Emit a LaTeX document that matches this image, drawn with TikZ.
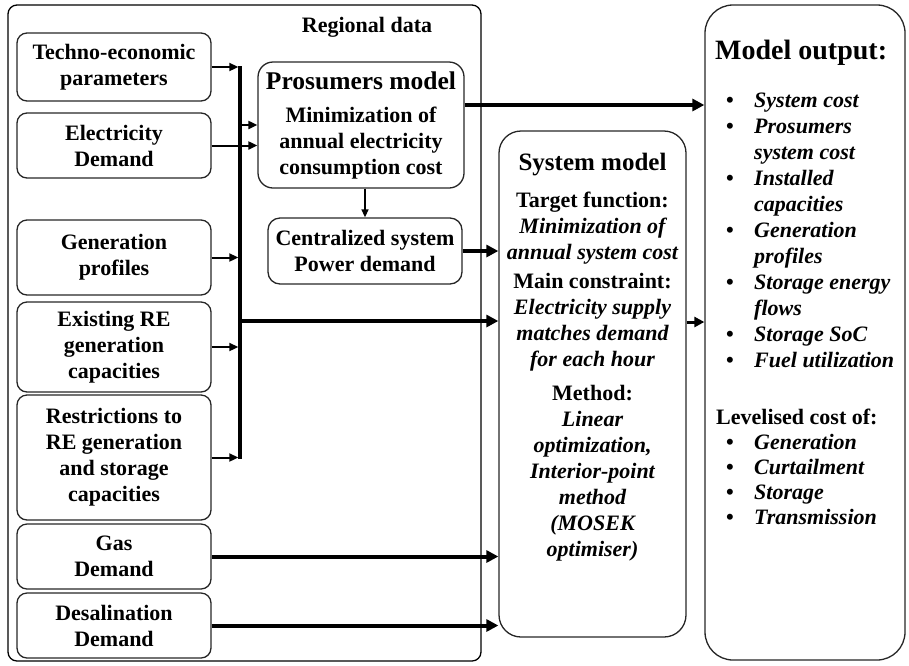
\documentclass[tikz,border=0pt]{standalone}
\usepackage{fontspec}
\setmainfont{Liberation Serif}
\usetikzlibrary{arrows.meta}
\newcommand\bfont{\fontsize{22}{26}\selectfont\bfseries}
\begin{document}
\begin{tikzpicture}[x=1pt,y=-1pt,
  inbox/.style={draw=black!85, line width=1.3pt, rounded corners=10pt, align=center, inner sep=0pt, font=\bfont},
  thinarrow/.style={line width=2pt, -{Triangle[length=9pt,width=8pt]}},
  thickarrow/.style={line width=4pt, -{Triangle[length=12pt,width=12pt]}},
  txt/.style={inner sep=0pt, anchor=base, font=\bfont},
  ltxt/.style={inner sep=0pt, anchor=base west, font=\bfont},
]
\useasboundingbox (0,0) rectangle (909,665);

% outer containers
\node[draw=black, line width=1.3pt, rounded corners=9pt, minimum width=473pt, minimum height=656pt, inner sep=0pt] (regional) at (244.5,333) {};
\node[txt] (regtitle) at (367,32) {Regional data};

% left inputs
\node[inbox, minimum width=194pt, minimum height=68pt] (techno) at (114,67) {Techno-economic\\parameters};
\node[inbox, minimum width=194pt, minimum height=65pt] (elec) at (114,145.5) {Electricity\\Demand};
\node[inbox, minimum width=194pt, minimum height=75pt] (gen) at (114,257.5) {Generation\\profiles};
\node[inbox, minimum width=194pt, minimum height=90pt] (exist) at (114,347) {Existing RE\\generation\\capacities};
\node[inbox, minimum width=194pt, minimum height=125pt] (restr) at (114,457.5) {Restrictions to\\RE generation\\and storage\\capacities};
\node[inbox, minimum width=194pt, minimum height=65pt] (gas) at (114,556.5) {Gas\\Demand};
\node[inbox, minimum width=194pt, minimum height=65pt] (desal) at (114,625.5) {Desalination\\Demand};

% prosumers and centralized
\node[inbox, rounded corners=15pt, minimum width=206pt, minimum height=126pt] (pros) at (361,125)
  {{\fontsize{25.5}{30}\selectfont Prosumers model}\\[7pt]Minimization of\\annual electricity\\consumption cost};
\node[inbox, rounded corners=12pt, minimum width=194pt, minimum height=66pt] (central) at (365,251) {Centralized system\\Power demand};

% system model
\node[draw=black!85, line width=1.3pt, rounded corners=22pt, minimum width=187pt, minimum height=506pt, inner sep=0pt] (sys) at (592.5,384) {};
\node[txt, font=\fontsize{25}{30}\selectfont\bfseries] (systitle) at (592.5,170) {System model};
\foreach \n/\yy/\t in {s1/207/{Target function:}, s4/288/{Main constraint:}, s8/400/{Method:}}
  \node[txt] (\n) at (592.5,\yy) {\t};
\foreach \n/\yy/\t in {s2/233/{Minimization of}, s3/259/{annual system cost}, s5/314/{Electricity supply}, s6/340/{matches demand}, s7/366/{for each hour}, s9/426/{Linear}, s10/452/{optimization,}, s11/478/{Interior-point}, s12/504/{method}, s13/530/{(MOSEK}, s14/556/{optimiser)}}
  \node[txt] (\n) at (592.5,\yy) {\itshape\t};

% model output
\node[draw=black!85, line width=1.3pt, rounded corners=28pt, minimum width=200pt, minimum height=655pt, inner sep=0pt] (out) at (805,332.5) {};
\node[ltxt, font=\fontsize{28}{32}\selectfont\bfseries] (outtitle) at (715,59) {Model output:};
\foreach \n/\yy/\t in {o1/107/{System cost}, o2/133/{Prosumers}, o4/185/{Installed}, o6/237/{Generation}, o8/289/{Storage energy}, o10/341/{Storage SoC}, o11/367/{Fuel utilization}, l1/449/{Generation}, l2/474/{Curtailment}, l3/499/{Storage}, l4/524/{Transmission}}{
  \node[txt] (b\n) at (730,\yy) {•};
  \node[ltxt] (\n) at (754,\yy) {\itshape\t};
}
\foreach \n/\yy/\t in {o3/159/{system cost}, o5/211/{capacities}, o7/263/{profiles}, o9/315/{flows}}
  \node[ltxt] (\n) at (754,\yy) {\itshape\t};
\node[ltxt] (levtitle) at (716,424) {Levelised cost of:};

% bus
\coordinate (bustop) at (240,66);
\coordinate (busbot) at (240,459);
\draw[line width=3.5pt] (bustop) -- (busbot);
\draw[thinarrow, shorten >=1.7pt] (techno.east) -- (techno.east -| bustop);
\draw[thinarrow, shorten >=1.7pt] (gen.east) -- (gen.east -| bustop);
\draw[thinarrow, shorten >=1.7pt] (exist.east) -- (exist.east -| bustop);
\draw[thinarrow, shorten >=1.7pt] (restr.east) -- (restr.east -| bustop);
\coordinate (bp) at (240,125);
\draw[thinarrow] (bp) -- (bp -| pros.west);
\draw[thinarrow] (elec.east) -- (elec.east -| pros.west);
\coordinate (bs) at (240,321);
\draw[thickarrow] (bs) -- (bs -| sys.west);

% other connectors
\draw[line width=1.5pt, -{Triangle[length=8pt,width=7pt]}] (central.north |- pros.south) -- (central.north);
\draw[thickarrow] (central.east) -- (central.east -| sys.west);
\coordinate (po) at (pros.east |- 0,105);
\draw[thickarrow] (po) -- (po -| out.west);
\coordinate (so) at (sys.east |- 0,322);
\draw[line width=3pt, -{Triangle[length=10pt,width=10pt]}] (so) -- (so -| out.west);
\draw[thickarrow] (gas.east) -- (gas.east -| sys.west);
\draw[thickarrow] (desal.east) -- (desal.east -| sys.west);
\end{tikzpicture}
\end{document}
